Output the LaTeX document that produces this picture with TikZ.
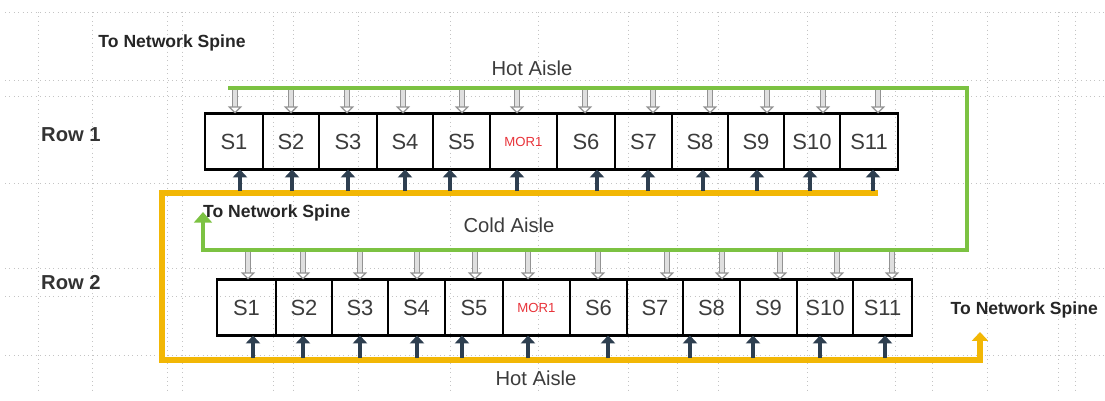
\documentclass[tikz,border=0pt]{standalone}
\usepackage{fontspec}
\setmainfont{Liberation Sans}
\usetikzlibrary{arrows.meta}

\definecolor{aislegreen}{HTML}{7CC242}
\definecolor{aisleyellow}{HTML}{F2B705}
\definecolor{flowdark}{HTML}{2E3F50}
\definecolor{gridgray}{HTML}{C4C4C4}
\definecolor{labelgray}{HTML}{3C3C3C}
\definecolor{morred}{HTML}{E8333A}

\newcommand{\morlabel}{\textcolor{morred}{\fontsize{7.5}{9}\selectfont MOR1}}

\begin{document}
\begin{tikzpicture}[
    x=0.02cm,
    y=-0.02cm,
    rack/.style={
        rectangle,
        draw,
        line width=1.5pt,
        inner sep=0pt,
        outer sep=0pt,
        minimum height=1.12cm,
        text=labelgray,
        font=\fontsize{12.5}{14}\selectfont
    },
    gridline/.style={
        draw=gridgray, dotted, line width=0.5pt
    },
    hotflow/.style={
        draw=gray!85, double=gray!25, double distance=2.4pt, line width=0.7pt,
        -{Triangle[open, length=4pt, width=8pt]}
    },
    coldflow/.style={
        draw=flowdark, line width=2.8pt, -{Triangle[length=4.5pt, width=8pt]}
    },
    greenduct/.style={
        draw=aislegreen, line width=2.8pt
    },
    yellowduct/.style={
        draw=aisleyellow, line width=3.3pt
    },
    spine/.style={
        font=\fontsize{10}{12}\selectfont\bfseries, text=black!85
    },
    rowlabel/.style={
        font=\fontsize{11.5}{13}\selectfont\bfseries, text=black!80, anchor=west
    },
    aisle/.style={
        font=\fontsize{11.5}{13}\selectfont, text=labelgray
    }
]
\useasboundingbox (0,0) rectangle (1105,401);

% Grid
\foreach \y in {12,80,96,183,268,296,355}
    \draw [gridline] (5,\y) -- (1105,\y);
\foreach \x in {38,92,167,182,273,293,358,450,538,628,677,718,807,895,932,987,1058,1075}
    \draw [gridline] (\x,12) -- (\x,392);

% Nodes
\foreach \n/\txt/\a/\b in {1/S1/205/263, 2/S2/263/319, 3/S3/319/377, 4/S4/377/433,
        5/S5/433/490, 6/\morlabel/490/557, 7/S6/557/615, 8/S7/615/672,
        9/S8/672/728, 10/S9/728/784, 11/S10/784/840, 12/S11/840/898}
    \node [rack, minimum width={(\b-\a)*0.02cm}] (r1b\n) at ({(\a+\b)/2},141.5) {\txt};

\foreach \n/\txt/\a/\b in {1/S1/217/276, 2/S2/276/332, 3/S3/332/388, 4/S4/388/445,
        5/S5/445/503, 6/\morlabel/503/570, 7/S6/570/627, 8/S7/627/683,
        9/S8/683/740, 10/S9/740/797, 11/S10/797/853, 12/S11/853/912}
    \node [rack, minimum width={(\b-\a)*0.02cm}] (r2b\n) at ({(\a+\b)/2},307.5) {\txt};

\node [spine] (spinetop) at (172,43) {To Network Spine};
\node [aisle] (hottop) at (532,68) {Hot Aisle};
\node [rowlabel] (rowone) at (35,135) {Row 1};
\node [spine, anchor=west] (spinemid) at (197,213) {To Network Spine};
\node [aisle] (cold) at (509,225) {Cold Aisle};
\node [rowlabel] (rowtwo) at (35,283) {Row 2};
\node [spine, anchor=east] (spineright) at (1104,310) {To Network Spine};
\node [aisle] (hotbottom) at (536,378) {Hot Aisle};

% Aisles
\coordinate (greenstart) at (228,88);
\coordinate (greenend) at (203,212);
\coordinate (yellowstart) at (878,193);
\coordinate (yellowend) at (980,332);

\draw [greenduct, -{Triangle[length=6pt, width=10pt]}]
    (greenstart) -- (967,88) -- (967,250) -- (203,250) -- (greenend);
\draw [yellowduct, -{Triangle[length=5pt, width=9pt]}]
    (yellowstart) -- (162,193) -- (162,360) -- (980,360) -- (yellowend);

% Arrows
\foreach \x/\n in {235/1, 291/2, 347/3, 403/4, 462/5, 517/6, 585/7, 653/8,
        710/9, 767/10, 823/11, 878/12}
    \draw [hotflow] (\x,90) -- (\x,0 |- r1b\n.north);
\foreach \x/\n in {240/1, 292/2, 348/3, 405/4, 450/5, 517/6, 597/7, 648/8,
        703/9, 757/10, 810/11, 873/12}
    \draw [coldflow] (\x,191) -- (\x,0 |- r1b\n.south);

\foreach \x/\n in {248/1, 303/2, 360/3, 417/4, 475/5, 528/6, 598/7, 667/8,
        722/9, 780/10, 837/11, 892/12}
    \draw [hotflow] (\x,252) -- (\x,0 |- r2b\n.north);
\foreach \x/\n in {253/1, 303/2, 360/3, 417/4, 462/5, 528/6, 608/7, 690/9,
        753/10, 820/11, 885/12}
    \draw [coldflow] (\x,358) -- (\x,0 |- r2b\n.south);

\end{tikzpicture}
\end{document}
